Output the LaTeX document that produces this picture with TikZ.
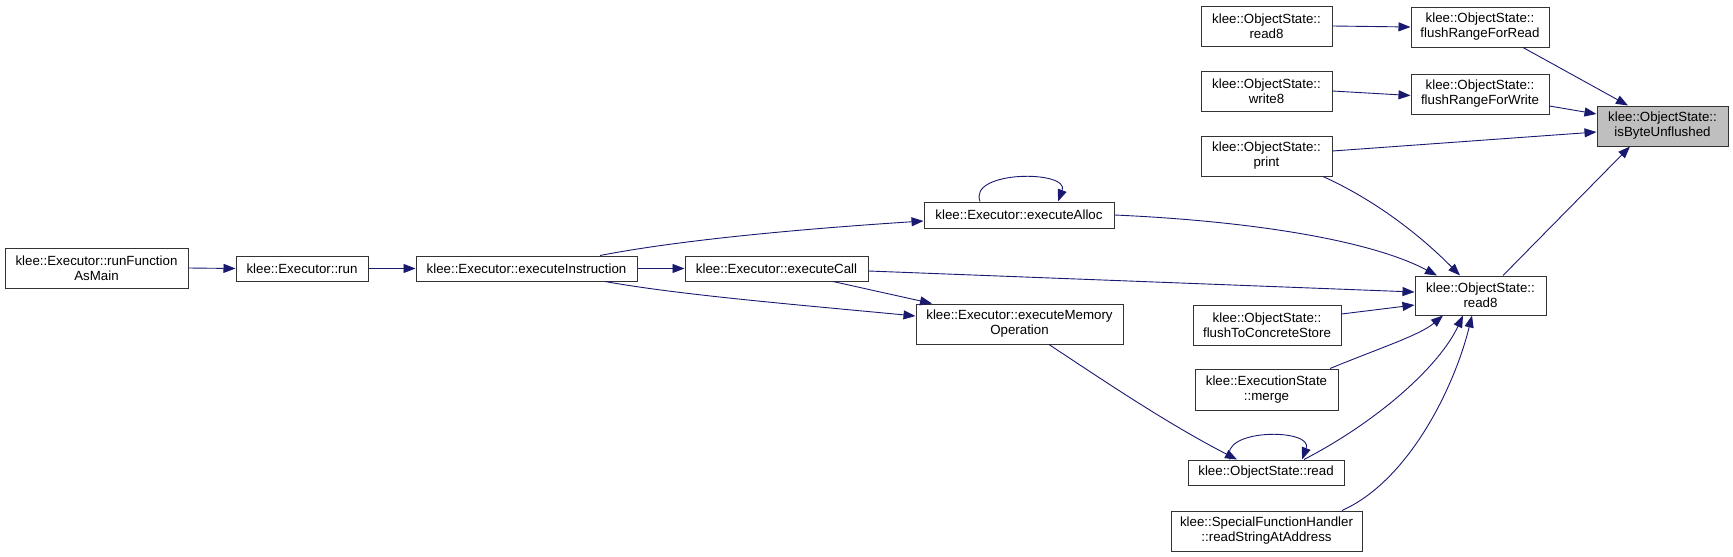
\documentclass[tikz,border=0pt]{standalone}
\usepackage{fontspec}
\setmainfont{Liberation Sans}
\usetikzlibrary{arrows.meta}
\definecolor{edgecol}{HTML}{191970}
\definecolor{boxcol}{HTML}{333333}
\definecolor{hilite}{HTML}{BFBFBF}
\tikzset{
  fnbox/.style={draw=boxcol, line width=1pt, inner sep=0pt, align=center,
    font=\fontsize{13.3}{15}\selectfont, fill=white},
  hibox/.style={fnbox, fill=hilite},
  call/.style={draw=edgecol, line width=0.9pt,
    -{Triangle[length=12pt,width=9pt]}, edgecol},
}
\begin{document}
\begin{tikzpicture}[x=1pt,y=-1pt]
\useasboundingbox (0,0) rectangle (1733,557);
% nodes
\node[fnbox, minimum width=183pt, minimum height=40pt] (runMain) at (96.5,268) {klee::Executor::runFunction\\AsMain};
\node[fnbox, minimum width=132pt, minimum height=25pt] (run) at (302,268.5) {klee::Executor::run};
\node[fnbox, minimum width=221pt, minimum height=25pt] (execInstr) at (526.5,268.5) {klee::Executor::executeInstruction};
\node[fnbox, minimum width=183pt, minimum height=25pt] (execCall) at (776.5,268.5) {klee::Executor::executeCall};
\node[fnbox, minimum width=190pt, minimum height=26pt] (execAlloc) at (1019,215) {klee::Executor::executeAlloc};
\node[fnbox, minimum width=207pt, minimum height=40pt] (execMemOp) at (1019.5,324) {klee::Executor::executeMemory\\Operation};
\node[fnbox, minimum width=131pt, minimum height=40pt] (read8a) at (1266.5,26) {klee::ObjectState::\\read8};
\node[fnbox, minimum width=131pt, minimum height=40pt] (write8) at (1266.5,91) {klee::ObjectState::\\write8};
\node[fnbox, minimum width=131pt, minimum height=40pt] (print) at (1266.5,156) {klee::ObjectState::\\print};
\node[fnbox, minimum width=138pt, minimum height=40pt] (flushRead) at (1480,27) {klee::ObjectState::\\flushRangeForRead};
\node[fnbox, minimum width=138pt, minimum height=40pt] (flushWrite) at (1480,94) {klee::ObjectState::\\flushRangeForWrite};
\node[hibox, minimum width=131pt, minimum height=40pt] (isByte) at (1662.5,126) {klee::ObjectState::\\isByteUnflushed};
\node[fnbox, minimum width=131pt, minimum height=39pt] (read8c) at (1480.5,295.5) {klee::ObjectState::\\read8};
\node[fnbox, minimum width=148pt, minimum height=40pt] (flushConcrete) at (1267,325) {klee::ObjectState::\\flushToConcreteStore};
\node[fnbox, minimum width=143pt, minimum height=41pt] (merge) at (1266.5,389.5) {klee::ExecutionState\\::merge};
\node[fnbox, minimum width=156pt, minimum height=25pt] (read) at (1266,472.5) {klee::ObjectState::read};
\node[fnbox, minimum width=191pt, minimum height=40pt] (readString) at (1266.5,531) {klee::SpecialFunctionHandler\\::readStringAtAddress};
% edges
\draw[call] (runMain.east) -- (run.west);
\draw[call] (run.east) -- (execInstr.west);
\draw[call] (execInstr.east) -- (execCall.west);
\draw[call] ([xshift=73.5pt]execInstr.north) .. controls (680,240) and (800,229) .. ([yshift=-6pt]execAlloc.west);
\draw[call] ([xshift=78.5pt]execInstr.south) .. controls (680,295) and (800,305) .. ([yshift=8pt]execMemOp.west);
\draw[call] ([xshift=56.5pt]execCall.south) -- ([xshift=-87.5pt]execMemOp.north);
\draw[call] ([xshift=-39pt]execAlloc.north) .. controls (968,170) and (1070,170) .. ([xshift=39pt]execAlloc.north);
\draw[call] ([xshift=-36pt]read.north) .. controls (1218,428) and (1314,428) .. ([xshift=36pt]read.north);
\draw[call] ([xshift=29.5pt]execMemOp.south) .. controls (1110,385) and (1170,425) .. ([xshift=-29pt]read.north);
\draw[call] (read8a.east) -- (flushRead.west);
\draw[call] (write8.east) -- ([yshift=-1.5pt]flushWrite.west);
\draw[call] ([xshift=43pt]flushRead.south) -- ([xshift=-34.5pt]isByte.north);
\draw[call] ([yshift=-12pt]flushWrite.east) -- ([yshift=12pt]isByte.west);
\draw[call] ([yshift=5pt]print.east) -- ([yshift=-6pt]isByte.west);
\draw[call] ([xshift=22.5pt]read8c.north) -- ([xshift=-32.5pt]isByte.south);
\draw[call] ([xshift=56.5pt]print.south) .. controls (1375,200) and (1420,235) .. ([xshift=-20.5pt]read8c.north);
\draw[call] (execAlloc.east) .. controls (1250,221) and (1370,240) .. ([xshift=-43.5pt]read8c.north);
\draw[call] ([yshift=-2.5pt]execCall.east) -- ([yshift=3.5pt]read8c.west);
\draw[call] ([yshift=11pt]flushConcrete.east) -- ([yshift=-9.5pt]read8c.west);
\draw[call] ([xshift=63.5pt]merge.north) .. controls (1380,348) and (1420,335) .. ([xshift=-37.5pt]read8c.south);
\draw[call] ([xshift=38pt]read.north) .. controls (1380,420) and (1440,365) .. ([xshift=-17.5pt]read8c.south);
\draw[call] ([xshift=75.5pt]readString.north) .. controls (1410,480) and (1455,385) .. ([xshift=-8.5pt]read8c.south);
\end{tikzpicture}
\end{document}
